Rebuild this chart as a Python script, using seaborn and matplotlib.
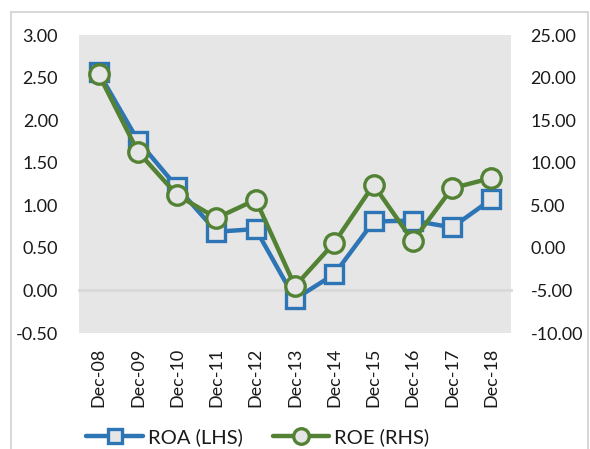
import numpy as np
import pandas as pd
import matplotlib
matplotlib.use("Agg")
import matplotlib.pyplot as plt
import seaborn as sns
from matplotlib.patches import Rectangle

categories = ["Dec-08", "Dec-09", "Dec-10", "Dec-11", "Dec-12", "Dec-13",
              "Dec-14", "Dec-15", "Dec-16", "Dec-17", "Dec-18"]
roa = [2.56, 1.76, 1.21, 0.69, 0.72, -0.10, 0.19, 0.81, 0.82, 0.74, 1.07]
roe = [20.4, 11.3, 6.2, 3.5, 5.65, -4.5, 0.6, 7.4, 0.8, 7.0, 8.2]
left_ticks = [-0.5, 0.0, 0.5, 1.0, 1.5, 2.0, 2.5, 3.0]
right_ticks = [-10, -5, 0, 5, 10, 15, 20, 25]

BLUE = "#2E75B6"
GREEN = "#548235"
BG = "#E6E6E6"
GRID = "#D9D9D9"

sns.set_theme(style="white")
plt.rcParams["font.family"] = ["Lato", "DejaVu Sans"]

df = pd.DataFrame({"pos": np.arange(len(categories)), "cat": categories,
                   "ROA": roa, "ROE": roe})

fig = plt.figure(figsize=(5.9, 4.49), dpi=100)
fig.patch.set_facecolor("white")
ax = fig.add_axes([79/590, 1-333/449, (511-79)/590, (333-35)/449])
ax.set_facecolor(BG)
ax2 = ax.twinx()

sns.lineplot(data=df, x="pos", y="ROA", ax=ax, color=BLUE, linewidth=3.2,
             marker="s", markersize=13, markerfacecolor=BG,
             markeredgecolor=BLUE, markeredgewidth=2.4, sort=False,
             label="ROA (LHS)", legend=False, zorder=3)
sns.lineplot(data=df, x="pos", y="ROE", ax=ax2, color=GREEN, linewidth=3.2,
             marker="o", markersize=14, markerfacecolor=BG,
             markeredgecolor=GREEN, markeredgewidth=2.4, sort=False,
             label="ROE (RHS)", legend=False, zorder=3)

n = len(categories)
ax.set_xlim(-0.5, n - 0.5)
ax.set_ylim(left_ticks[0], left_ticks[-1])
ax2.set_ylim(right_ticks[0], right_ticks[-1])
ax.set_yticks(left_ticks)
ax.set_yticklabels([f"{v:.2f}" for v in left_ticks])
ax2.set_yticks(right_ticks)
ax2.set_yticklabels([f"{v:.2f}" for v in right_ticks])

for a in (ax, ax2):
    for s in ["top", "left", "right"]:
        a.spines[s].set_visible(False)
ax2.spines["bottom"].set_visible(False)

ax.spines["bottom"].set_position(("data", 0))
ax.spines["bottom"].set_color(GRID)
ax.spines["bottom"].set_linewidth(2)
ax.set_xticks(np.arange(n))
ax.set_xticklabels(categories, rotation=90, fontsize=13, color="#1a1a1a")
ax.set_xticks(np.arange(n + 1) - 0.5, minor=True)
ax.tick_params(axis="x", which="major", length=0, pad=41)
ax.tick_params(axis="x", which="minor", length=5, width=1.5, color=GRID,
               direction="out")
ax.tick_params(axis="y", length=0, pad=15, labelsize=13, labelcolor="#1a1a1a")
ax2.tick_params(axis="y", length=0, pad=14, labelsize=13, labelcolor="#1a1a1a")
ax.set_xlabel("")
ax.set_ylabel("")
ax2.set_ylabel("")
ax2.set_zorder(ax.get_zorder() + 1)
ax2.patch.set_visible(False)

h1, l1 = ax.get_legend_handles_labels()
h2, l2 = ax2.get_legend_handles_labels()
fig.legend(h1 + h2, l1 + l2, loc="center", bbox_to_anchor=(258/590, 1-437/449),
           ncol=2, frameon=False, fontsize=14.5, handlelength=2.8,
           markerscale=0.8, columnspacing=1.5, handletextpad=0.25,
           labelcolor="#1a1a1a", borderpad=0.1)

fig.patches.append(Rectangle((11/590, -0.1), (588-11)/590, (449-12)/449 + 0.1,
                             transform=fig.transFigure, fill=False,
                             edgecolor=GRID, linewidth=1.5))

fig.savefig("out.png", dpi=100)
